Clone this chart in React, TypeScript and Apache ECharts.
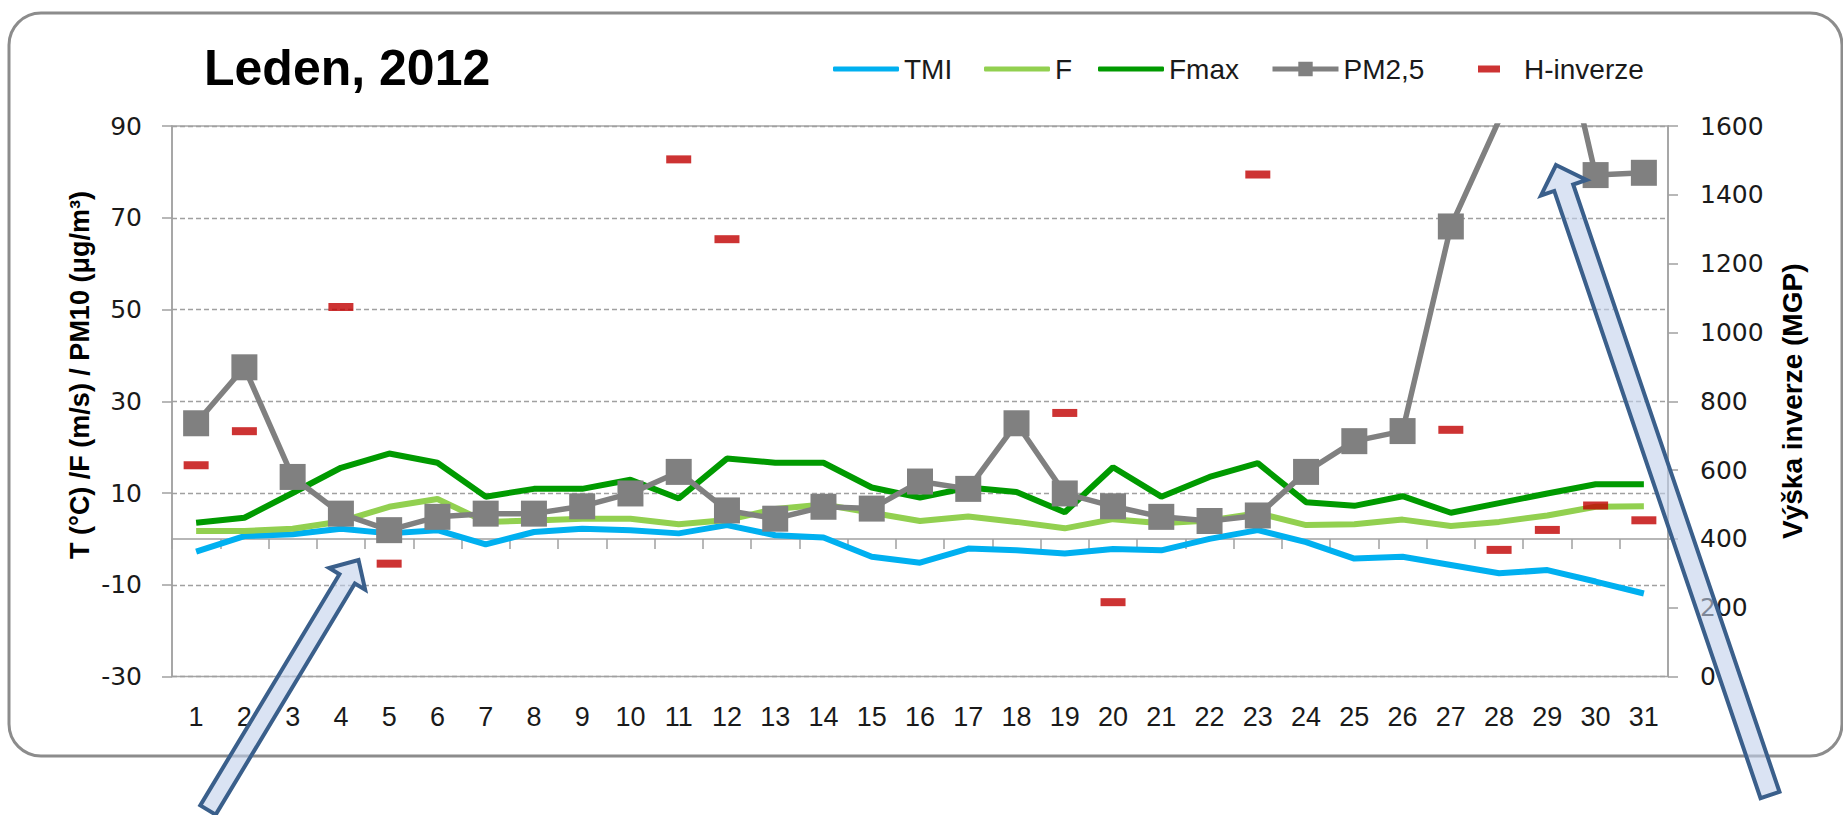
import React, { useEffect, useRef } from "react";
import * as echarts from "echarts";

const days = ["1","2","3","4","5","6","7","8","9","10","11","12","13","14","15","16","17","18","19","20","21","22","23","24","25","26","27","28","29","30","31"];

const tmi = [-2.8, 0.6, 1.0, 2.2, 1.2, 1.9, -1.2, 1.5, 2.2, 1.9, 1.2, 3.0, 0.8, 0.3, -3.9, -5.2, -2.1, -2.5, -3.2, -2.2, -2.5, 0.0, 1.9, -0.7, -4.3, -3.9, -5.7, -7.5, -6.8, -9.3, -11.9];
const f = [1.7, 1.7, 2.2, 3.8, 7.0, 8.7, 3.7, 4.0, 4.4, 4.4, 3.2, 4.1, 6.5, 7.5, 5.7, 3.9, 4.9, 3.7, 2.3, 4.3, 3.4, 4.0, 5.6, 3.0, 3.2, 4.2, 2.8, 3.7, 5.1, 7.0, 7.1];
const fmax = [3.5, 4.6, 10.0, 15.5, 18.6, 16.6, 9.2, 10.9, 10.9, 12.9, 8.8, 17.5, 16.6, 16.6, 11.2, 9.0, 11.2, 10.2, 5.8, 15.6, 9.2, 13.5, 16.5, 8.0, 7.2, 9.3, 5.7, 7.8, 9.9, 11.9, 11.9];
const pm25 = [25.2, 37.4, 13.5, 5.5, 1.9, 4.8, 5.5, 5.5, 7.1, 9.9, 14.6, 6.2, 4.4, 7.0, 6.6, 12.5, 10.9, 25.2, 9.9, 7.1, 4.8, 3.9, 5.1, 14.6, 21.3, 23.5, 68.1, 91.3, 125, 79.3, 79.8];
const hInverze: (number | null)[] = [614, 713, null, 1074, 328, null, null, null, null, null, 1503, 1271, null, null, null, null, null, null, 766, 216, null, null, 1459, null, null, null, 717, 368, 426, 497, 454];

const leftTitle = "T (°C) /F (m/s) / PM10 (μg/m³)";
const rightTitle = "Výška inverze (MGP)";
const chartTitle = "Leden, 2012";

function arrowPolygon(tail: number[], tip: number[], shaftW: number, headW: number, headL: number) {
  const dx = tip[0] - tail[0];
  const dy = tip[1] - tail[1];
  const len = Math.hypot(dx, dy);
  const ux = dx / len, uy = dy / len;
  const nx = -uy, ny = ux;
  const bx = tip[0] - ux * headL, by = tip[1] - uy * headL;
  const s = shaftW / 2, h = headW / 2;
  return [
    [tip[0], tip[1]],
    [bx + nx * h, by + ny * h],
    [bx + nx * s, by + ny * s],
    [tail[0] + nx * s, tail[1] + ny * s],
    [tail[0] - nx * s, tail[1] - ny * s],
    [bx - nx * s, by - ny * s],
    [bx - nx * h, by - ny * h],
  ];
}

const AXIS_GRAY = "#A0A0A0";
const TEXT = "#1a1a1a";
const LEG_FONT = { fontFamily: "Liberation Sans", fontSize: 28, color: TEXT, lineHeight: 28 };

export default function App() {
  const ref = useRef<HTMLDivElement>(null);
  useEffect(() => {
    if (!ref.current) return;
    const chart = echarts.init(ref.current, null, { renderer: "svg" });
    const legendBase = { top: 55, padding: 0, itemGap: 0, itemWidth: 66, itemHeight: 5, textStyle: LEG_FONT };
    const option: any = {
      animation: false,
      backgroundColor: "#ffffff",
      title: {
        text: chartTitle,
        left: 204,
        top: 43,
        padding: 0,
        textStyle: { fontFamily: "Liberation Sans", fontWeight: "bold", fontSize: 50, lineHeight: 50, color: "#000" },
      },
      legend: [
        { ...legendBase, left: 833, data: [{ name: "TMI", icon: "roundRect" }] },
        { ...legendBase, left: 984, data: [{ name: "F", icon: "roundRect" }] },
        { ...legendBase, left: 1098, data: [{ name: "Fmax", icon: "roundRect" }] },
        { ...legendBase, left: 1270, itemHeight: 18, lineStyle: { width: 5 }, data: ["PM2,5"] },
        { ...legendBase, left: 1478, itemWidth: 22, itemHeight: 7, data: [{ name: "H-inverze", icon: "rect" }], textStyle: { ...LEG_FONT, padding: [0, 0, 0, 19] } },
      ],
      grid: { left: 172, right: 175, top: 126, bottom: 138.5, show: true, borderColor: "#A6A6A6", borderWidth: 1.5 },
      xAxis: [
        {
          type: "category", data: days, position: "bottom", boundaryGap: true,
          axisLine: { show: false, onZero: false }, axisTick: { show: false },
          axisLabel: { margin: 27, fontSize: 27, fontFamily: "Liberation Sans", color: TEXT, interval: 0 },
          splitLine: { show: false },
        },
        {
          type: "category", data: days, position: "bottom", boundaryGap: true,
          axisLine: { show: true, onZero: true, onZeroAxisIndex: 0, lineStyle: { color: AXIS_GRAY, width: 1.5 } },
          axisTick: { show: true, inside: false, length: 10, interval: 0, lineStyle: { color: AXIS_GRAY, width: 1.5 } },
          axisLabel: { show: false }, splitLine: { show: false },
        },
      ],
      yAxis: [
        {
          type: "value", min: -30, max: 90, interval: 20, position: "left",
          axisLine: { show: true, lineStyle: { color: AXIS_GRAY, width: 1.5 } },
          axisTick: { show: true, inside: false, length: 10, lineStyle: { color: AXIS_GRAY, width: 1.5 } },
          axisLabel: { margin: 30, fontFamily: "DejaVu Sans", fontSize: 25, color: TEXT },
          splitLine: { show: true, lineStyle: { type: [5, 3], color: AXIS_GRAY, width: 1.3 } },
        },
        {
          type: "value", min: 0, max: 1600, interval: 200, position: "right",
          name: rightTitle, nameLocation: "middle", nameRotate: 90, nameGap: 110,
          nameTextStyle: { fontFamily: "Liberation Sans", fontWeight: "bold", fontSize: 28, color: "#000" },
          axisLine: { show: true, lineStyle: { color: AXIS_GRAY, width: 1.5 } },
          axisTick: { show: true, inside: false, length: 10, lineStyle: { color: AXIS_GRAY, width: 1.5 } },
          axisLabel: { margin: 32, fontFamily: "DejaVu Sans", fontSize: 25, color: TEXT, formatter: (v: number) => String(v) },
          splitLine: { show: false },
        },
      ],
      series: [
        { name: "TMI", type: "line", data: tmi, symbol: "none", lineStyle: { color: "#00B0F0", width: 6 }, itemStyle: { color: "#00B0F0" }, z: 2 },
        { name: "F", type: "line", data: f, symbol: "none", lineStyle: { color: "#92D050", width: 6 }, itemStyle: { color: "#92D050" }, z: 2 },
        { name: "Fmax", type: "line", data: fmax, symbol: "none", lineStyle: { color: "#009A00", width: 6 }, itemStyle: { color: "#009A00" }, z: 2 },
        { name: "PM2,5", type: "line", data: pm25, symbol: "rect", symbolSize: 26, clip: true, lineStyle: { color: "#808080", width: 5.5 }, itemStyle: { color: "#808080" }, z: 3 },
        { name: "H-inverze", type: "scatter", yAxisIndex: 1, data: hInverze.map((v) => (v == null ? "-" : v)), symbol: "rect", symbolSize: [25, 8], itemStyle: { color: "#C00000" }, z: 4 },
      ],
      graphic: [
        { type: "rect", z: -1, silent: true, shape: { x: 9, y: 13, width: 1833, height: 743, r: 32 }, style: { fill: "none", stroke: "#8C8C8C", lineWidth: 3 } },
        { type: "text", z: 10, silent: true, x: 80, y: 375, rotation: Math.PI / 2, style: { text: leftTitle, fontFamily: "Liberation Sans", fontWeight: "bold", fontSize: 27, fill: "#000", align: "center", verticalAlign: "middle" } },
        { type: "polygon", z: 100, silent: true, shape: { points: arrowPolygon([208, 810], [358.5, 560], 18, 42, 22) }, style: { fill: "rgba(193,208,235,0.6)", stroke: "#3A5F8B", lineWidth: 4, lineJoin: "miter" } },
        { type: "polygon", z: 100, silent: true, shape: { points: arrowPolygon([1770, 795], [1556, 165], 20, 48, 24) }, style: { fill: "rgba(193,208,235,0.6)", stroke: "#3A5F8B", lineWidth: 4, lineJoin: "miter" } },
      ],
    };
    chart.setOption(option);
    return () => chart.dispose();
  }, []);
  return <div ref={ref} style={{ position: "fixed", left: 0, top: 0, width: 1843, height: 815, background: "#fff" }} />;
}
